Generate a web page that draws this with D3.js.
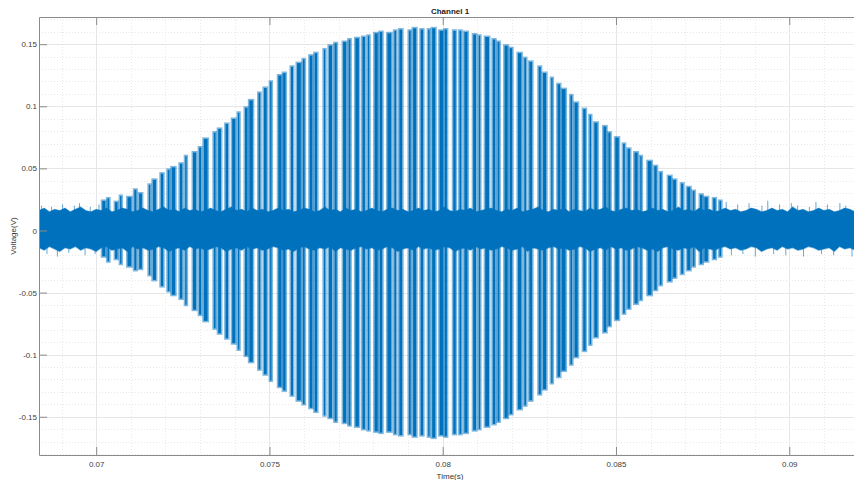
<!DOCTYPE html>
<html><head><meta charset="utf-8">
<script src="https://cdn.jsdelivr.net/npm/d3@7"></script>
<style>body{margin:0;background:#fff}svg{display:block;font-family:"Liberation Sans",Arial,Helvetica,sans-serif}</style>
</head><body><svg id="c" width="854" height="480"></svg>
<script>
// ---------- data ----------
const chartTitle = "Channel 1";
const xLabel = "Time(s)";
const yLabel = "Voltage(V)";
const xLimits = [0.06835, 0.09207];
const yLimits = [-0.1808, 0.1719];
const xTicks = [0.07, 0.075, 0.08, 0.085, 0.09];
const xTickLabels = ["0.07", "0.075", "0.08", "0.085", "0.09"];
const yTicks = [-0.15, -0.1, -0.05, 0, 0.05, 0.1, 0.15];
const yTickLabels = ["-0.15", "-0.1", "-0.05", "0", "0.05", "0.1", "0.15"];

// burst stripes (time in s, max / min voltage, duration in s)
const burstT = [0.07022,0.07035,0.07058,0.07071,0.07096,0.07113,0.07128,0.07154,0.07168,0.07190,
0.07209,0.07223,0.07245,0.07259,0.07284,0.07300,0.07316,0.07342,0.07356,0.07377,
0.07397,0.07411,0.07433,0.07447,0.07471,0.07488,0.07504,0.07530,0.07543,0.07565,
0.07585,0.07599,0.07620,0.07634,0.07659,0.07676,0.07691,0.07717,0.07731,0.07753,
0.07772,0.07786,0.07808,0.07822,0.07846,0.07863,0.07879,0.07905,0.07919,0.07940,
0.07960,0.07974,0.07996,0.08009,0.08034,0.08051,0.08067,0.08092,0.08106,0.08128,
0.08148,0.08161,0.08183,0.08197,0.08222,0.08238,0.08254,0.08280,0.08294,0.08315,
0.08335,0.08349,0.08371,0.08385,0.08409,0.08426,0.08442,0.08468,0.08481,0.08503,
0.08523,0.08537,0.08558,0.08572,0.08597,0.08614,0.08629,0.08655,0.08669,0.08691,
0.08710,0.08724,0.08746,0.08760,0.08784,0.08801];
const burstMax = [0.025,0.027,0.024,0.029,0.028,0.034,0.031,0.038,0.042,0.047,
0.050,0.052,0.055,0.061,0.064,0.068,0.075,0.080,0.083,0.087,
0.091,0.096,0.100,0.106,0.112,0.116,0.121,0.126,0.128,0.133,
0.136,0.139,0.142,0.144,0.147,0.150,0.152,0.153,0.155,0.156,
0.157,0.158,0.160,0.161,0.160,0.162,0.163,0.162,0.164,0.163,
0.163,0.164,0.162,0.163,0.162,0.162,0.161,0.159,0.158,0.157,
0.155,0.153,0.150,0.148,0.144,0.140,0.137,0.133,0.128,0.124,
0.119,0.115,0.110,0.104,0.099,0.094,0.088,0.085,0.080,0.076,
0.071,0.067,0.064,0.061,0.057,0.053,0.048,0.045,0.042,0.039,
0.036,0.033,0.030,0.028,0.027,0.025];
const burstMin = [-0.022,-0.026,-0.024,-0.028,-0.030,-0.033,-0.032,-0.037,-0.041,-0.046,
-0.050,-0.053,-0.056,-0.061,-0.065,-0.069,-0.074,-0.080,-0.084,-0.088,
-0.092,-0.097,-0.102,-0.107,-0.113,-0.117,-0.122,-0.127,-0.130,-0.134,
-0.138,-0.141,-0.144,-0.147,-0.150,-0.152,-0.155,-0.156,-0.158,-0.159,
-0.161,-0.162,-0.163,-0.164,-0.163,-0.165,-0.166,-0.165,-0.167,-0.166,
-0.167,-0.168,-0.166,-0.167,-0.165,-0.165,-0.164,-0.162,-0.161,-0.159,
-0.157,-0.155,-0.152,-0.149,-0.145,-0.142,-0.138,-0.133,-0.129,-0.124,
-0.119,-0.114,-0.109,-0.103,-0.098,-0.093,-0.087,-0.083,-0.078,-0.073,
-0.068,-0.064,-0.060,-0.057,-0.053,-0.049,-0.045,-0.042,-0.039,-0.036,
-0.033,-0.030,-0.028,-0.026,-0.024,-0.022];
const burstDur = [0.00009,0.00005,0.00007,0.00004,0.00011,0.00006,0.00008,0.00004,0.00009,0.00007,
0.00005,0.00010,0.00007,0.00004,0.00009,0.00006,0.00011,0.00005,0.00008,0.00007,
0.00009,0.00004,0.00007,0.00010,0.00005,0.00008,0.00004,0.00009,0.00007,0.00006,
0.00011,0.00005,0.00008,0.00007,0.00004,0.00009,0.00006,0.00009,0.00005,0.00010,
0.00007,0.00004,0.00009,0.00007,0.00011,0.00005,0.00008,0.00005,0.00009,0.00007,
0.00004,0.00009,0.00010,0.00006,0.00007,0.00005,0.00009,0.00008,0.00004,0.00011,
0.00007,0.00005,0.00009,0.00007,0.00010,0.00005,0.00008,0.00006,0.00009,0.00004,
0.00007,0.00011,0.00005,0.00009,0.00007,0.00004,0.00009,0.00008,0.00006,0.00010,
0.00005,0.00007,0.00009,0.00004,0.00011,0.00007,0.00005,0.00009,0.00008,0.00006,
0.00009,0.00005,0.00007,0.00010,0.00007,0.00005];

// background noise band (time in s, upper / lower edge in V)
const noiseT = [0.06835,0.06850,0.06865,0.06880,0.06895,0.06910,0.06925,0.06940,0.06955,0.06970,
0.06985,0.07000,0.07015,0.07030,0.07045,0.07060,0.07075,0.07090,0.07105,0.07120,
0.07135,0.07150,0.07165,0.07180,0.07195,0.07210,0.07225,0.07240,0.07255,0.07270,
0.07285,0.07300,0.07315,0.07330,0.07345,0.07360,0.07375,0.07390,0.07405,0.07420,
0.07435,0.07450,0.07465,0.07480,0.07495,0.07510,0.07525,0.07540,0.07555,0.07570,
0.07585,0.07600,0.07615,0.07630,0.07645,0.07660,0.07675,0.07690,0.07705,0.07720,
0.07735,0.07750,0.07765,0.07780,0.07795,0.07810,0.07825,0.07840,0.07855,0.07870,
0.07885,0.07900,0.07915,0.07930,0.07945,0.07960,0.07975,0.07990,0.08005,0.08020,
0.08035,0.08050,0.08065,0.08080,0.08095,0.08110,0.08125,0.08140,0.08155,0.08170,
0.08185,0.08200,0.08215,0.08230,0.08245,0.08260,0.08275,0.08290,0.08305,0.08320,
0.08335,0.08350,0.08365,0.08380,0.08395,0.08410,0.08425,0.08440,0.08455,0.08470,
0.08485,0.08500,0.08515,0.08530,0.08545,0.08560,0.08575,0.08590,0.08605,0.08620,
0.08635,0.08650,0.08665,0.08680,0.08695,0.08710,0.08725,0.08740,0.08755,0.08770,
0.08785,0.08800,0.08815,0.08830,0.08845,0.08860,0.08875,0.08890,0.08905,0.08920,
0.08935,0.08950,0.08965,0.08980,0.08995,0.09010,0.09025,0.09040,0.09055,0.09070,
0.09085,0.09100,0.09115,0.09130,0.09145,0.09160,0.09175,0.09190,0.09205];
const noiseHi = [0.016,0.018,0.015,0.017,0.016,0.018,0.015,0.017,0.019,0.016,
0.015,0.017,0.016,0.018,0.015,0.016,0.018,0.017,0.015,0.016,
0.018,0.016,0.015,0.017,0.019,0.016,0.017,0.015,0.018,0.016,
0.017,0.015,0.016,0.018,0.016,0.015,0.017,0.019,0.016,0.017,
0.015,0.018,0.016,0.017,0.015,0.016,0.018,0.016,0.017,0.015,
0.016,0.018,0.017,0.015,0.016,0.019,0.016,0.017,0.015,0.018,
0.016,0.017,0.015,0.016,0.018,0.016,0.015,0.017,0.018,0.016,
0.017,0.015,0.016,0.018,0.016,0.017,0.015,0.016,0.019,0.016,
0.015,0.017,0.016,0.018,0.015,0.016,0.017,0.018,0.016,0.015,
0.017,0.016,0.018,0.015,0.016,0.017,0.019,0.016,0.015,0.017,
0.016,0.018,0.015,0.017,0.016,0.015,0.018,0.016,0.017,0.019,
0.016,0.015,0.017,0.018,0.016,0.017,0.015,0.016,0.018,0.016,
0.017,0.015,0.016,0.019,0.016,0.017,0.015,0.018,0.016,0.017,
0.015,0.016,0.018,0.016,0.017,0.015,0.016,0.018,0.017,0.015,
0.016,0.018,0.016,0.017,0.015,0.019,0.016,0.017,0.015,0.016,
0.018,0.016,0.017,0.015,0.016,0.018,0.017,0.015,0.016];
const noiseLo = [-0.014,-0.016,-0.013,-0.015,-0.017,-0.014,-0.015,-0.013,-0.016,-0.014,
-0.015,-0.017,-0.014,-0.013,-0.016,-0.015,-0.014,-0.017,-0.013,-0.015,
-0.014,-0.016,-0.015,-0.013,-0.014,-0.017,-0.015,-0.014,-0.016,-0.013,
-0.015,-0.014,-0.016,-0.015,-0.013,-0.014,-0.017,-0.015,-0.014,-0.016,
-0.013,-0.015,-0.014,-0.016,-0.015,-0.013,-0.014,-0.016,-0.015,-0.017,
-0.014,-0.013,-0.015,-0.016,-0.014,-0.015,-0.013,-0.017,-0.014,-0.015,
-0.016,-0.014,-0.013,-0.015,-0.014,-0.016,-0.015,-0.013,-0.014,-0.017,
-0.015,-0.014,-0.016,-0.013,-0.015,-0.014,-0.016,-0.015,-0.013,-0.014,
-0.017,-0.015,-0.014,-0.016,-0.013,-0.015,-0.014,-0.016,-0.015,-0.013,
-0.014,-0.016,-0.015,-0.013,-0.017,-0.014,-0.015,-0.016,-0.014,-0.013,
-0.015,-0.014,-0.016,-0.015,-0.013,-0.014,-0.017,-0.015,-0.014,-0.016,
-0.013,-0.015,-0.014,-0.016,-0.015,-0.013,-0.014,-0.016,-0.015,-0.017,
-0.014,-0.013,-0.015,-0.016,-0.014,-0.015,-0.013,-0.017,-0.014,-0.015,
-0.016,-0.014,-0.013,-0.015,-0.014,-0.016,-0.015,-0.013,-0.014,-0.017,
-0.015,-0.014,-0.016,-0.013,-0.015,-0.014,-0.016,-0.015,-0.013,-0.014,
-0.016,-0.015,-0.014,-0.017,-0.013,-0.015,-0.014,-0.016,-0.015];

// isolated noise peaks outside the burst
const peakT = [0.06842,0.06858,0.06871,0.06888,0.06903,0.06921,0.06937,0.06952,0.06968,0.06983,0.06997,0.07008,
0.08818,0.08833,0.08851,0.08866,0.08884,0.08902,0.08921,0.08938,0.08955,0.08972,0.08990,0.09006,
0.09024,0.09041,0.09058,0.09077,0.09093,0.09110,0.09128,0.09146,0.09163,0.09181,0.09198];
const peakV = [0.020,-0.019,0.019,-0.021,0.021,-0.018,0.020,0.022,-0.020,0.019,-0.019,0.021,
0.023,-0.020,0.021,-0.019,0.022,-0.021,0.020,0.024,-0.019,0.021,-0.020,0.022,
0.020,-0.021,0.019,0.023,-0.019,0.021,-0.020,0.022,0.020,-0.021,0.021];

// ---------- drawing ----------
const M = {left: 39, right: 861, top: 17, bottom: 455};
const lineColor = "#0072BD";
const svg = d3.select("#c");
const x = d3.scaleLinear().domain(xLimits).range([M.left, M.right]);
const y = d3.scaleLinear().domain(yLimits).range([M.bottom, M.top]);

svg.append("defs").append("clipPath").attr("id", "clip")
  .append("rect").attr("x", M.left).attr("y", M.top)
  .attr("width", M.right - M.left).attr("height", M.bottom - M.top);

// grid
const grid = svg.append("g");
const xMinor = x.ticks(24).filter(v => !xTicks.some(t => Math.abs(t - v) < 1e-9));
const yMinor = y.ticks(36).filter(v => !yTicks.some(t => Math.abs(t - v) < 1e-9));
grid.selectAll("line.xm").data(xMinor).join("line")
  .attr("x1", d => Math.round(x(d)) + 0.5).attr("x2", d => Math.round(x(d)) + 0.5)
  .attr("y1", M.top).attr("y2", M.bottom)
  .attr("stroke", "#e9e9e9").attr("stroke-dasharray", "1,2");
grid.selectAll("line.ym").data(yMinor).join("line")
  .attr("y1", d => Math.round(y(d)) + 0.5).attr("y2", d => Math.round(y(d)) + 0.5)
  .attr("x1", M.left).attr("x2", M.right)
  .attr("stroke", "#e9e9e9").attr("stroke-dasharray", "1,2");
grid.selectAll("line.xM").data(xTicks).join("line")
  .attr("x1", d => Math.round(x(d)) + 0.5).attr("x2", d => Math.round(x(d)) + 0.5)
  .attr("y1", M.top).attr("y2", M.bottom).attr("stroke", "#e6e6e6");
grid.selectAll("line.yM").data(yTicks).join("line")
  .attr("y1", d => Math.round(y(d)) + 0.5).attr("y2", d => Math.round(y(d)) + 0.5)
  .attr("x1", M.left).attr("x2", M.right).attr("stroke", "#e6e6e6");

// data
const plot = svg.append("g").attr("clip-path", "url(#clip)");
plot.append("path")
  .datum(noiseT.map((t, i) => [t, noiseHi[i], noiseLo[i]]))
  .attr("d", d3.area().x(d => x(d[0])).y0(d => y(d[2])).y1(d => y(d[1])))
  .attr("fill", lineColor).attr("stroke", lineColor).attr("stroke-opacity", 0.4).attr("stroke-width", 1.2);
plot.selectAll("line.pk").data(peakT).join("line")
  .attr("x1", d => x(d)).attr("x2", d => x(d))
  .attr("y1", y(0)).attr("y2", (d, i) => y(peakV[i]))
  .attr("stroke", lineColor).attr("stroke-opacity", 0.6).attr("stroke-width", 1);
const bursts = burstT.map((t, i) => ({t, hi: burstMax[i], lo: burstMin[i], d: burstDur[i]}));
plot.selectAll("rect.halo").data(bursts).join("rect")
  .attr("x", d => x(d.t - d.d / 2) - 1.5)
  .attr("width", d => x(d.t + d.d / 2) - x(d.t - d.d / 2) + 3)
  .attr("y", d => y(d.hi)).attr("height", d => y(d.lo) - y(d.hi))
  .attr("fill", lineColor).attr("opacity", 0.5);
plot.selectAll("rect.core").data(bursts).join("rect")
  .attr("x", d => x(d.t - d.d / 2))
  .attr("width", d => x(d.t + d.d / 2) - x(d.t - d.d / 2))
  .attr("y", d => y(d.hi) + 1.5).attr("height", d => y(d.lo) - y(d.hi) - 3)
  .attr("fill", lineColor);

// axes
const axisColor = "#8a8a8a";
const fs = "8px";
const ax = svg.append("g").attr("transform", `translate(0,${M.bottom})`)
  .call(d3.axisBottom(x).tickValues(xTicks).tickFormat((d, i) => xTickLabels[i])
    .tickSizeInner(-8).tickSizeOuter(0).tickPadding(6));
const axT = svg.append("g").attr("transform", `translate(0,${M.top})`)
  .call(d3.axisTop(x).tickValues(xTicks).tickFormat(() => "")
    .tickSizeInner(-8).tickSizeOuter(0));
const ay = svg.append("g").attr("transform", `translate(${M.left},0)`)
  .call(d3.axisLeft(y).tickValues(yTicks).tickFormat((d, i) => yTickLabels[i])
    .tickSizeInner(-8).tickSizeOuter(0).tickPadding(2));
[ax, axT, ay].forEach(g => {
  g.select(".domain").attr("stroke", axisColor);
  g.selectAll(".tick line").attr("stroke", axisColor);
  g.selectAll(".tick text").attr("fill", "#404040").style("font-size", fs)
    .style("font-family", '"Liberation Sans",Arial,sans-serif');
});

svg.append("text").attr("x", (M.left + M.right) / 2).attr("y", 14)
  .attr("text-anchor", "middle").style("font-size", fs).style("font-weight", "bold")
  .attr("fill", "#222").text(chartTitle);
svg.append("text").attr("x", (M.left + M.right) / 2).attr("y", 479)
  .attr("text-anchor", "middle").style("font-size", fs).attr("fill", "#333").text(xLabel);
svg.append("text").attr("transform", `translate(16,${(M.top + M.bottom) / 2}) rotate(-90)`)
  .attr("text-anchor", "middle").style("font-size", fs).attr("fill", "#333").text(yLabel);
</script></body></html>
